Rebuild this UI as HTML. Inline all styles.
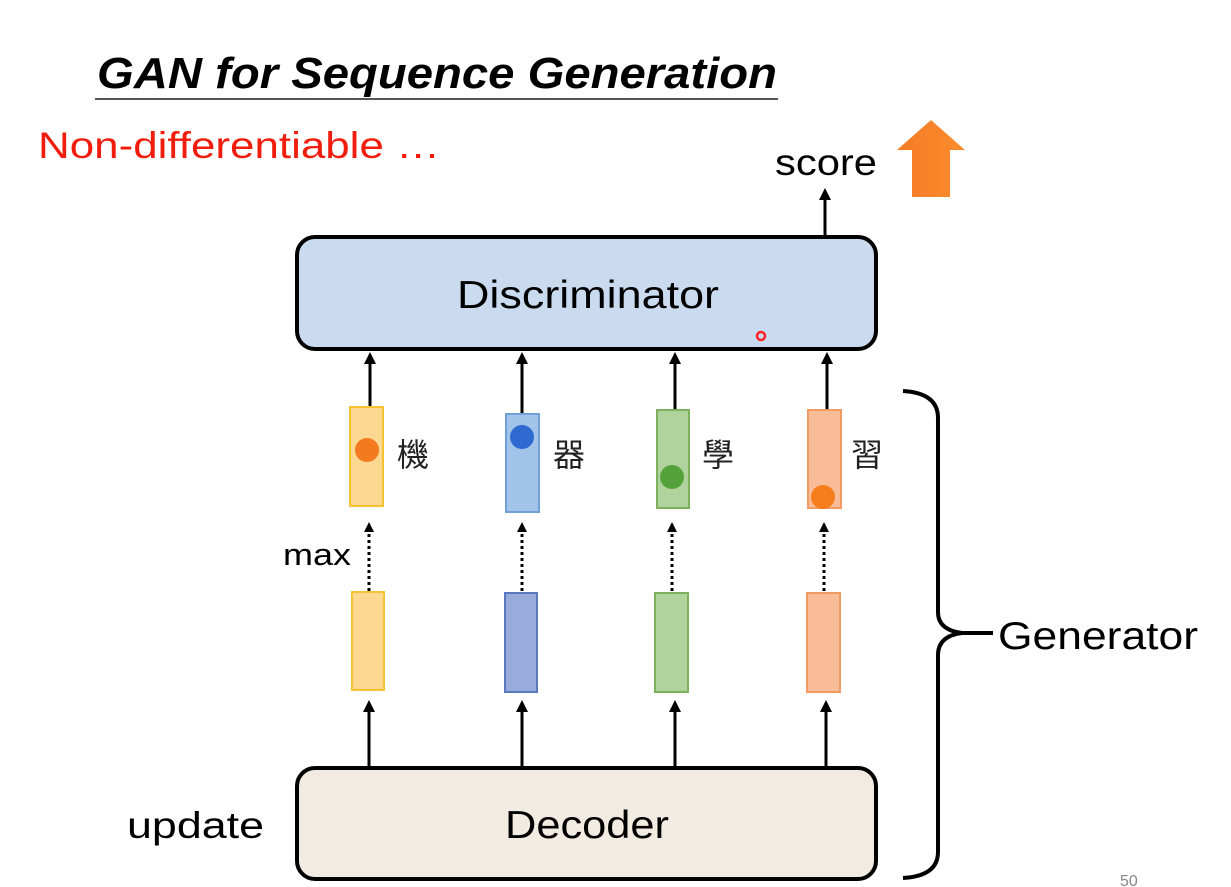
<!DOCTYPE html>
<html><head><meta charset="utf-8"><style>
html,body{margin:0;padding:0;background:#fff;}
svg{display:block;}
</style></head><body>
<svg width="1231" height="887" viewBox="0 0 1231 887" xmlns="http://www.w3.org/2000/svg" font-family="Liberation Sans, Noto Sans CJK TC, sans-serif">
<defs>
<linearGradient id="oa" x1="0" x2="1"><stop offset="0" stop-color="#f47a25"/><stop offset="1" stop-color="#fb8d2e"/></linearGradient>
</defs>
<rect width="1231" height="887" fill="#fff"/>
<text x="97" y="88" font-size="44" font-weight="bold" font-style="italic" textLength="680" lengthAdjust="spacingAndGlyphs">GAN for Sequence Generation</text>
<line x1="95" y1="99" x2="778" y2="99" stroke="#555" stroke-width="2"/>
<text x="38" y="158" font-size="37" fill="#f01c0c" textLength="402" lengthAdjust="spacingAndGlyphs">Non-differentiable …</text>
<text x="775" y="175" font-size="37" textLength="102" lengthAdjust="spacingAndGlyphs">score</text>
<path d="M897,150 L931,120 L965,150 L950,150 L950,197 L912,197 L912,150 Z" fill="url(#oa)"/>
<line x1="825" y1="236" x2="825" y2="198" stroke="#000" stroke-width="3"/>
<path d="M819,200 L825,188 L831,200 Z" fill="#000"/>
<rect x="297" y="237" width="579" height="112" rx="18" fill="#cadbf0" stroke="#000" stroke-width="4"/>
<text x="588" y="308" font-size="39" text-anchor="middle" textLength="262" lengthAdjust="spacingAndGlyphs">Discriminator</text>
<circle cx="761" cy="336" r="4" fill="none" stroke="#f22" stroke-width="2.5"/>
<g stroke="#000" stroke-width="3">
<line x1="370" y1="407" x2="370" y2="362"/>
<line x1="522" y1="414" x2="522" y2="362"/>
<line x1="675" y1="410" x2="675" y2="362"/>
<line x1="827" y1="410" x2="827" y2="362"/>
</g>
<g fill="#000">
<path d="M364,364 L370,352 L376,364 Z"/><path d="M516,364 L522,352 L528,364 Z"/>
<path d="M669,364 L675,352 L681,364 Z"/><path d="M821,364 L827,352 L833,364 Z"/>
</g>
<rect x="350" y="407" width="33" height="99" fill="#fdd890" stroke="#f5c232" stroke-width="2"/>
<rect x="506" y="414" width="33" height="98" fill="#a3c4ea" stroke="#6fa0d8" stroke-width="2"/>
<rect x="657" y="410" width="32" height="98" fill="#b0d29c" stroke="#7fb05e" stroke-width="2"/>
<rect x="808" y="410" width="33" height="98" fill="#f8bc98" stroke="#f09a64" stroke-width="2"/>
<circle cx="367" cy="450" r="12" fill="#f47a20"/>
<circle cx="522" cy="437" r="12" fill="#2f6ad0"/>
<circle cx="672" cy="477" r="12" fill="#56a23a"/>
<circle cx="823" cy="497" r="12" fill="#f67d1c"/>
<g font-size="32" fill="#222">
<text x="397" y="466">機</text><text x="553" y="466">器</text><text x="702" y="466">學</text><text x="851" y="466">習</text>
</g>
<text x="283" y="565" font-size="31" textLength="68" lengthAdjust="spacingAndGlyphs">max</text>
<g stroke="#000" stroke-width="3" stroke-dasharray="3,3">
<line x1="369" y1="591" x2="369" y2="530"/>
<line x1="522" y1="591" x2="522" y2="530"/>
<line x1="672" y1="591" x2="672" y2="530"/>
<line x1="824" y1="591" x2="824" y2="530"/>
</g>
<g fill="#000">
<path d="M364,532 L369,522 L374,532 Z"/><path d="M517,532 L522,522 L527,532 Z"/>
<path d="M667,532 L672,522 L677,532 Z"/><path d="M819,532 L824,522 L829,532 Z"/>
</g>
<rect x="352" y="592" width="32" height="98" fill="#fdd890" stroke="#f5c232" stroke-width="2"/>
<rect x="505" y="593" width="32" height="99" fill="#97acdc" stroke="#5a78bc" stroke-width="2"/>
<rect x="655" y="593" width="33" height="99" fill="#b0d29c" stroke="#7fb05e" stroke-width="2"/>
<rect x="807" y="593" width="33" height="99" fill="#f8bc98" stroke="#f09a64" stroke-width="2"/>
<g stroke="#000" stroke-width="3">
<line x1="369" y1="768" x2="369" y2="710"/>
<line x1="522" y1="768" x2="522" y2="710"/>
<line x1="675" y1="768" x2="675" y2="710"/>
<line x1="826" y1="768" x2="826" y2="710"/>
</g>
<g fill="#000">
<path d="M363,712 L369,700 L375,712 Z"/><path d="M516,712 L522,700 L528,712 Z"/>
<path d="M669,712 L675,700 L681,712 Z"/><path d="M820,712 L826,700 L832,712 Z"/>
</g>
<rect x="297" y="768" width="579" height="111" rx="18" fill="#f2ebe2" stroke="#000" stroke-width="4"/>
<text x="587" y="838" font-size="39" text-anchor="middle" textLength="164" lengthAdjust="spacingAndGlyphs">Decoder</text>
<text x="127" y="838" font-size="37" textLength="137" lengthAdjust="spacingAndGlyphs">update</text>
<path d="M903,391 Q938,393 938,418 L938,612 Q938,630 962,633 L993,633 M962,633 Q938,636 938,655 L938,852 Q938,876 903,878" fill="none" stroke="#000" stroke-width="4"/>
<text x="998" y="649" font-size="39" textLength="200" lengthAdjust="spacingAndGlyphs">Generator</text>
<text x="1120" y="886" font-size="16" fill="#888">50</text>
</svg>
</body></html>
